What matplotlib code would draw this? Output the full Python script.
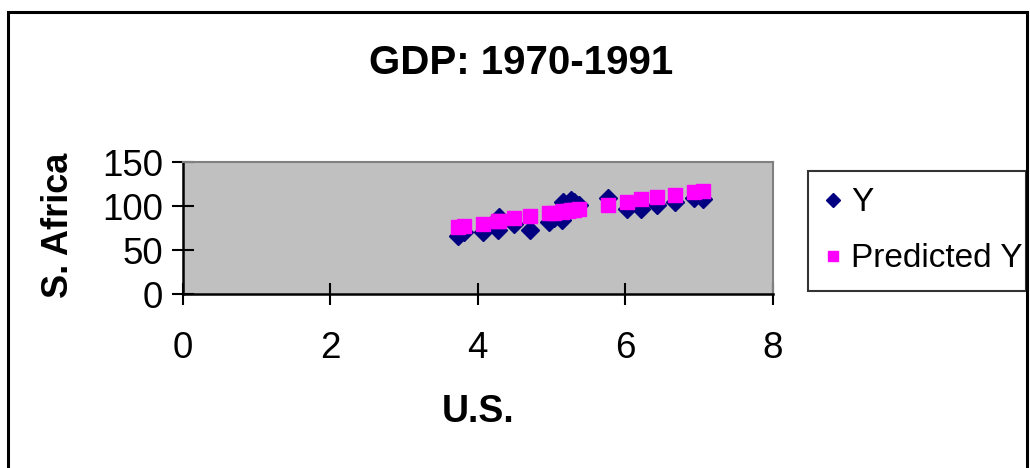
import matplotlib.pyplot as plt
from matplotlib.patches import Rectangle
from matplotlib.lines import Line2D

plt.rcParams['font.family'] = ['Liberation Sans', 'DejaVu Sans']

# U.S. GDP vs S. Africa GDP, 1970-1991
us_gdp = [3.73, 3.81, 4.07, 4.27, 4.29, 4.49, 4.71, 4.97, 5.04, 5.14, 5.16,
          5.22, 5.27, 5.31, 5.37, 5.77, 6.03, 6.22, 6.43, 6.68, 6.93, 7.06]
sa_gdp = [66, 71, 70, 73, 88, 80, 73, 82, 86, 84, 105,
          100, 107, 104, 101, 109, 97, 97, 101, 105, 109, 108]
sa_pred = [76, 77, 80, 83, 83, 86, 88.5, 91.5, 92.5, 93.5, 94,
           94.5, 95, 95.5, 96.5, 101.5, 105, 107.5, 110, 113, 116, 117.5]
x_ticks = [0, 2, 4, 6, 8]
y_ticks = [0, 50, 100, 150]

W, H = 1030, 468
fig = plt.figure(figsize=(W / 100, H / 100), dpi=100)
ax = fig.add_axes([182.7 / W, 1 - 294 / H, (772.7 - 182.7) / W, 132 / H])
ax.set_facecolor('#C0C0C0')

ax.plot(us_gdp, sa_gdp, 'D', color='#000080', markersize=9.5, label='Y', zorder=3)
ax.plot(us_gdp, sa_pred, 's', color='#FF00FF', markersize=9.5, label='Predicted Y', zorder=4)

ax.set_xlim(0, 8)
ax.set_ylim(0, 150)
ax.set_xticks(x_ticks)
ax.set_yticks(y_ticks)
ax.tick_params(axis='both', direction='inout', length=16, width=1.5,
               labelsize=26.5, color='black')
ax.tick_params(axis='x', pad=19)
ax.tick_params(axis='y', pad=6)

for side in ['left', 'bottom']:
    ax.spines[side].set_color('black')
    ax.spines[side].set_linewidth(1.8)
for side in ['top', 'right']:
    ax.spines[side].set_color('#808080')
    ax.spines[side].set_linewidth(1.5)

ax.set_xlabel('U.S.', fontsize=27, fontweight='bold', va='center')
ax.xaxis.set_label_coords(0.501, -0.892)
ax.set_ylabel('S. Africa', fontsize=26, fontweight='bold', va='center')
ax.yaxis.set_label_coords(-0.21, 0.523)

fig.text(521.5 / W, 1 - 62.5 / H, 'GDP: 1970-1991', fontsize=29,
         fontweight='bold', ha='center', va='center')

leg_handles = [
    Line2D([], [], ls='none', marker='D', color='#000080', markersize=7),
    Line2D([], [], ls='none', marker='s', color='#FF00FF', markersize=7),
]
leg = fig.legend(leg_handles, ['Y', 'Predicted Y'], loc='upper left',
                 bbox_to_anchor=(808 / W, 1 - 170.7 / H, 218 / W, 0),
                 mode='expand', fontsize=24, frameon=True, fancybox=False,
                 edgecolor='black', handlelength=0.5, handletextpad=0.3,
                 labelspacing=0.75, borderpad=0.5, borderaxespad=0)
leg.get_frame().set_linewidth(1.5)

# outer chart border
fig.patches.append(Rectangle((8 / W, -0.1), 1019 / W, 1.1 - 12 / H,
                             transform=fig.transFigure, fill=False,
                             edgecolor='black', linewidth=2.2))

fig.savefig('out.png', dpi=100)
